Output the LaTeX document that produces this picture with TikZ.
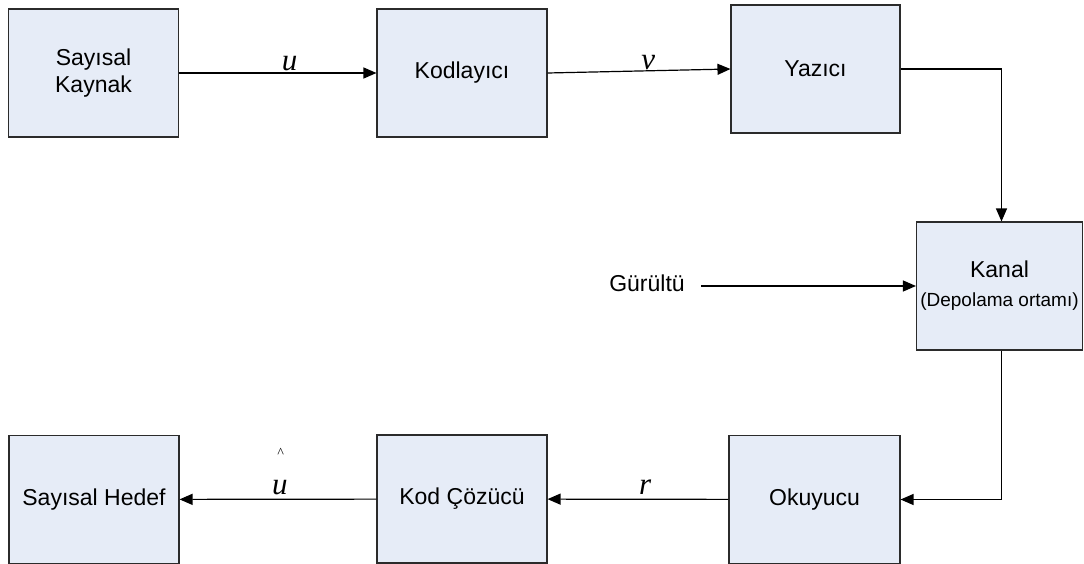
\documentclass[tikz,border=0pt]{standalone}
\usepackage{fontspec}
\setmainfont{Liberation Sans}
\newfontfamily\symfont{Liberation Serif}
\usetikzlibrary{arrows.meta}

\definecolor{boxfill}{HTML}{E6ECF7}
\definecolor{boxline}{HTML}{2B2B2B}

\begin{document}
\begin{tikzpicture}[
    x=1pt,y=-1pt,
    font=\fontsize{23}{27}\selectfont,
    block/.style={draw=boxline,fill=boxfill,line width=1.1pt,rectangle,
                  align=center,minimum width=170pt,minimum height=128pt,
                  inner sep=0pt},
    edge/.style={-{Triangle[length=13pt,width=11pt]},line width=1.2pt},
    sym/.style={font=\symfont\itshape\fontsize{31}{31}\selectfont,
                inner sep=1.5pt}
]
  \useasboundingbox (0,0) rectangle (1084,564);

  % upper row
  \node[block] (kaynak) at (93.5,73) {Say\i sal\\Kaynak};
  \node[block] (kodla) at (462,73) {Kodlay\i c\i};
  \node[block,minimum width=169pt] (yazici) at (815.5,69) {Yaz\i c\i};

  % channel with noise input
  \node[block,minimum width=166pt] (kanal) at (999.5,286)
       {Kanal\\[2pt]{\fontsize{19}{22}\selectfont(Depolama ortam\i)}};
  \node (gurultu) at (647,283) {Gürültü};

  % lower row
  \node[block,minimum width=171pt] (okuyucu) at (814.5,499.5) {Okuyucu};
  \node[block] (cozucu) at (462,499) {Kod Çözücü};
  \node[block] (hedef) at (94,499.5) {Say\i sal Hedef};

  \draw[edge] (kaynak) -- node[sym,above,pos=0.56] {u} (kodla);
  \draw[edge] (kodla.east) -- node[sym,above,pos=0.55,inner sep=0pt] {v} (yazici.west);
  \draw[edge] (yazici.east) -| ([xshift=2pt]kanal.north);
  \draw[edge,shorten <=13pt] (gurultu.east |- kanal.west) -- (kanal.west);
  \draw[edge] ([xshift=2pt]kanal.south) |- (okuyucu.east);
  \draw[edge] (okuyucu) -- node[sym,above,pos=0.46,inner sep=4pt] {r} (cozucu);
  \draw[edge] (cozucu) -- node[sym,above,pos=0.49,align=center,inner sep=4pt]
       {{\fontsize{14}{14}\selectfont\^{}}\\[6pt]u} (hedef);
\end{tikzpicture}
\end{document}
